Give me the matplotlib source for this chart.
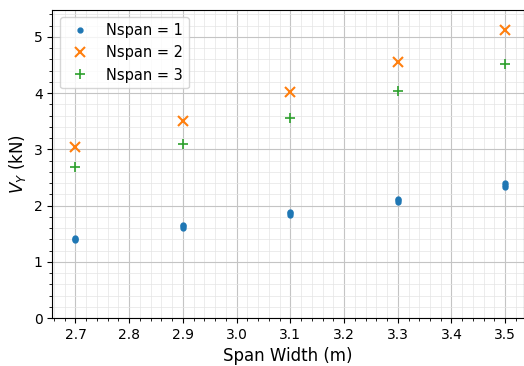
import numpy as np
import matplotlib.pyplot as plt
from matplotlib.ticker import MultipleLocator

# Span widths (m)
span = [2.7, 2.9, 3.1, 3.3, 3.5]

# Nspan = 1 has a few close values per span width
v1_span = [2.7, 2.7, 2.7, 2.9, 2.9, 2.9, 3.1, 3.1, 3.1, 3.3, 3.3, 3.3, 3.5, 3.5, 3.5]
v1 = [1.39, 1.41, 1.43, 1.61, 1.63, 1.65, 1.84, 1.86, 1.88, 2.07, 2.10, 2.12, 2.33, 2.36, 2.40]
v2 = [3.04, 3.51, 4.02, 4.55, 5.12]
v3 = [2.69, 3.10, 3.55, 4.03, 4.52]

fig, ax = plt.subplots(figsize=(5.24, 3.66), dpi=100)
ax.plot(v1_span, v1, '.', color='tab:blue', markersize=7, label='Nspan = 1')
ax.plot(span, v2, 'x', color='tab:orange', markersize=7, markeredgewidth=1.5, label='Nspan = 2')
ax.plot(span, v3, '+', color='tab:green', markersize=7, markeredgewidth=1.2, label='Nspan = 3')

ax.set_xlim(2.657, 3.535)
ax.set_ylim(0, 5.48)
ax.xaxis.set_major_locator(MultipleLocator(0.1))
ax.xaxis.set_minor_locator(MultipleLocator(0.02))
ax.yaxis.set_major_locator(MultipleLocator(1))
ax.yaxis.set_minor_locator(MultipleLocator(0.2))
ax.grid(True, which='major', color='#c4c4c4', linewidth=0.8)
ax.grid(True, which='minor', color='#e4e4e4', linewidth=0.5)
ax.tick_params(labelsize=10)

ax.set_xlabel('Span Width (m)', fontsize=12)
ax.set_ylabel('$V_Y$ (kN)', fontsize=12)
ax.legend(loc='upper left', fontsize=10.5)

plt.subplots_adjust(left=0.1, right=1.0, top=0.973, bottom=0.131)
plt.savefig('out.png')
